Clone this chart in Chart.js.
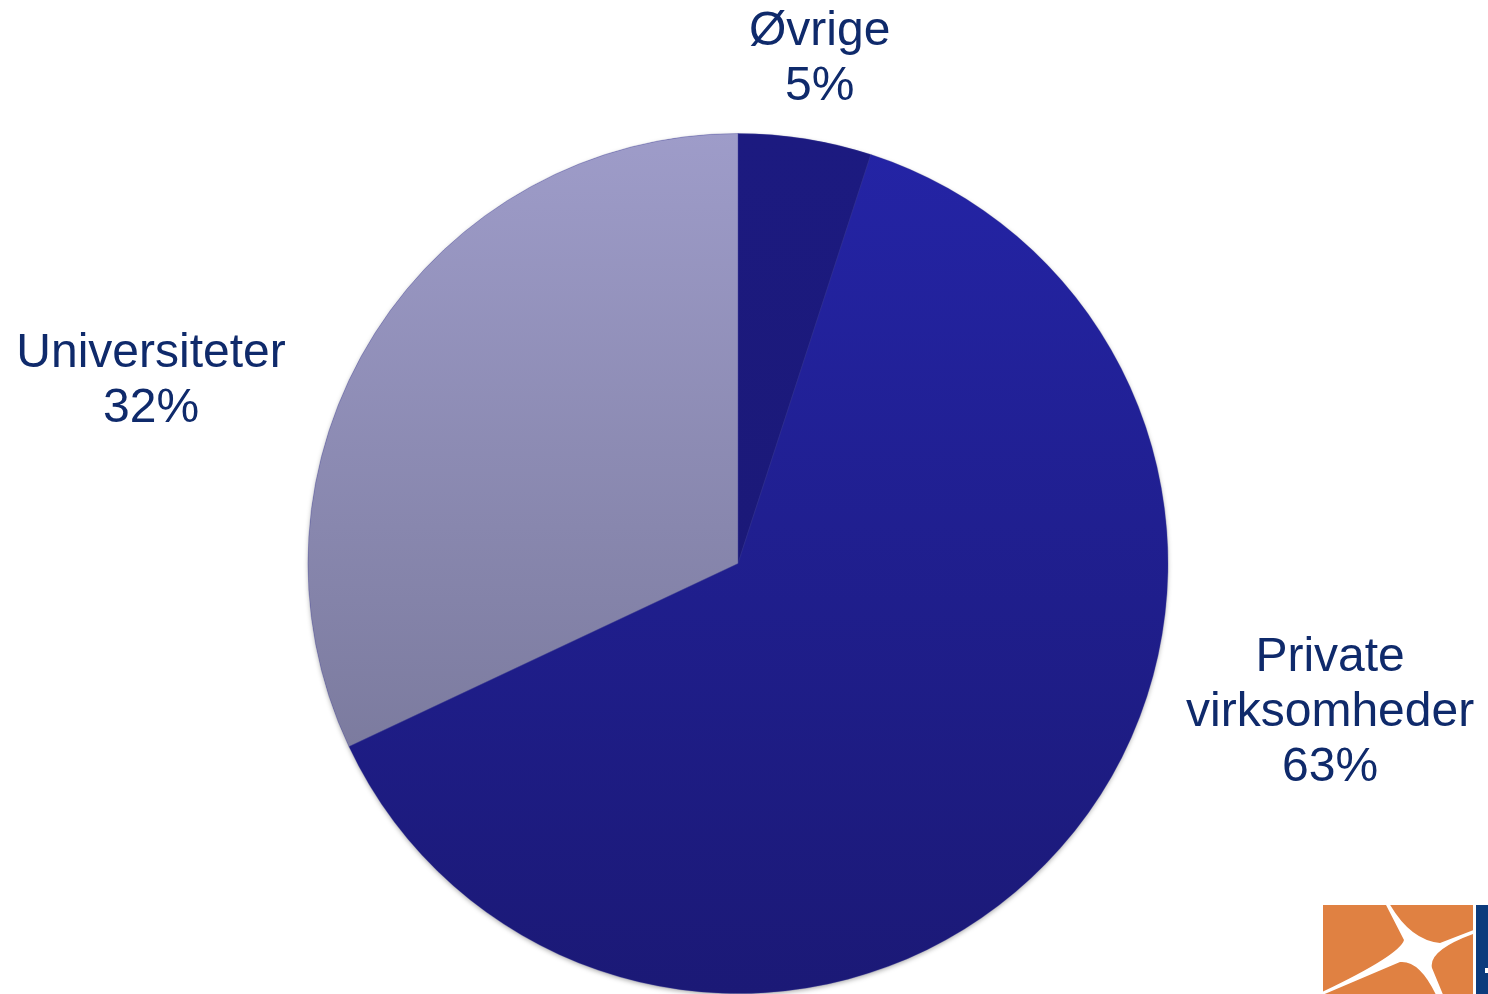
<!DOCTYPE html>
<html>
<head>
<meta charset="utf-8">
<title>Fordeling</title>
<script src="https://cdn.jsdelivr.net/npm/chart.js@4.4.1/dist/chart.umd.min.js"></script>
<style>
  html, body { margin: 0; padding: 0; background: #fff; }
  #wrap { width: 1488px; height: 994px; position: relative; }
</style>
</head>
<body>
<div id="wrap"><canvas id="pie"></canvas></div>
<script>
// data
const categories = ['Øvrige', 'Private virksomheder', 'Universiteter'];
const labelLines = [['Øvrige'], ['Private', 'virksomheder'], ['Universiteter']];
const shares = [5, 63, 32];

// colours: top / bottom of the vertical gradient for each slice
const topColors = ['#1c1a80', '#2424a6', '#9e9cc9'];
const bottomColors = ['#1a1870', '#1b1976', '#6e6e8e'];

// label anchor, in units of the pie radius from its centre
const labelOffset = [[0.19, -1.173], [1.377, 0.348], [-1.365, -0.423]];

function sliceFill(context) {
  const chart = context.chart;
  const area = chart.chartArea;
  if (!area) return topColors[context.dataIndex];
  const g = chart.ctx.createLinearGradient(0, area.top, 0, area.bottom);
  g.addColorStop(0, topColors[context.dataIndex]);
  g.addColorStop(1, bottomColors[context.dataIndex]);
  return g;
}

const shadowPlugin = {
  id: 'pieShadow',
  beforeDatasetsDraw(chart) {
    const arc = chart.getDatasetMeta(0).data[0];
    if (!arc) return;
    const ctx = chart.ctx;
    ctx.save();
    ctx.shadowColor = 'rgba(0,0,0,0.35)';
    ctx.shadowBlur = 5;
    ctx.shadowOffsetY = 2;
    ctx.fillStyle = '#1b1976';
    ctx.beginPath();
    ctx.arc(arc.x, arc.y, arc.outerRadius - 0.5, 0, Math.PI * 2);
    ctx.fill();
    ctx.restore();
  }
};

const labelPlugin = {
  id: 'sliceLabels',
  afterDatasetsDraw(chart) {
    const ctx = chart.ctx;
    const meta = chart.getDatasetMeta(0);
    ctx.save();
    ctx.fillStyle = '#0f2a6b';
    ctx.font = '48px "Liberation Sans", Arial, sans-serif';
    ctx.textAlign = 'center';
    ctx.textBaseline = 'middle';
    meta.data.forEach((arc, i) => {
      const r = arc.outerRadius;
      const cx = arc.x + labelOffset[i][0] * r;
      const cy = arc.y + labelOffset[i][1] * r;
      const lines = labelLines[i].concat([shares[i] + '%']);
      const lh = 55;
      const y0 = cy - (lines.length - 1) * lh / 2;
      lines.forEach((t, k) => ctx.fillText(t, cx, y0 + k * lh));
    });
    ctx.restore();
  }
};

// corner logo (decoration)
const logoPlugin = {
  id: 'logo',
  afterDraw(chart) {
    const ctx = chart.ctx;
    ctx.save();
    ctx.fillStyle = '#e08142';
    ctx.fillRect(1323, 905, 150, 92);
    ctx.beginPath();
    ctx.rect(1323, 905, 150, 92);
    ctx.clip();
    ctx.fillStyle = '#ffffff';
    const c = [1417, 951];
    ctx.beginPath();
    ctx.moveTo(1389, 903);
    ctx.quadraticCurveTo(1410, 940, 1440, 943);
    ctx.lineTo(1476, 929);
    ctx.lineTo(1476, 933);
    ctx.quadraticCurveTo(1428, 950, 1432, 968);
    ctx.lineTo(1444, 997);
    ctx.lineTo(1437, 997);
    ctx.quadraticCurveTo(1420, 960, 1400, 962);
    ctx.lineTo(1320, 996);
    ctx.lineTo(1320, 993);
    ctx.quadraticCurveTo(1400, 955, 1404, 940);
    ctx.lineTo(1385, 903);
    ctx.closePath();
    ctx.fill();
    ctx.beginPath();
    ctx.arc(c[0], c[1], 12, 0, Math.PI * 2);
    ctx.fill();
    ctx.restore();
    ctx.save();
    ctx.fillStyle = '#0c3b7c';
    ctx.fillRect(1476, 905, 12, 92);
    ctx.fillStyle = '#ffffff';
    ctx.fillRect(1485, 968, 3, 5);
    ctx.restore();
  }
};

new Chart(document.getElementById('pie'), {
  type: 'pie',
  data: {
    labels: categories,
    datasets: [{
      data: shares,
      backgroundColor: sliceFill,
      borderColor: 'rgba(60,60,150,0.35)',
      borderWidth: 1
    }]
  },
  options: {
    responsive: true,
    maintainAspectRatio: false,
    animation: false,
    rotation: 0,
    layout: { padding: { left: 307, right: 319, top: 133, bottom: 0 } },
    plugins: {
      legend: { display: false },
      tooltip: { enabled: false }
    }
  },
  plugins: [shadowPlugin, labelPlugin, logoPlugin]
});
</script>
</body>
</html>
